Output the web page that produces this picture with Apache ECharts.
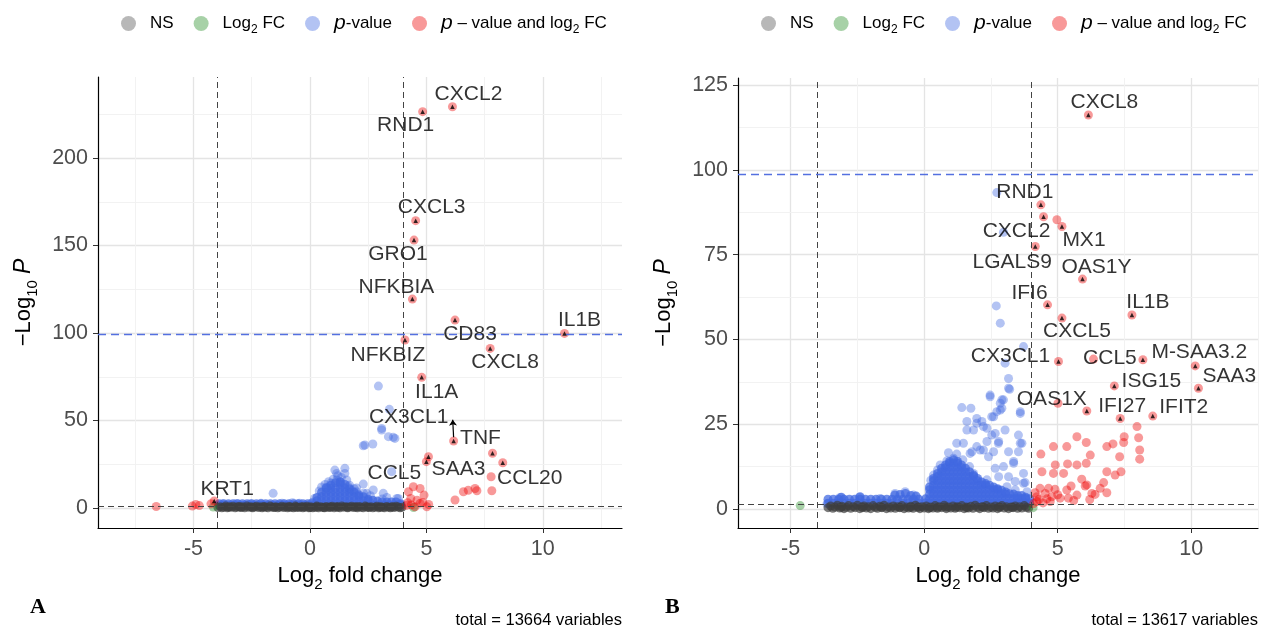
<!DOCTYPE html>
<html><head><meta charset="utf-8">
<script src="https://cdn.jsdelivr.net/npm/echarts@6/dist/echarts.min.js"></script>
<style>html,body{margin:0;padding:0;background:#fff}#c{width:1270px;height:632px}</style>
</head><body><div id="c"></div>
<script>
// ---------------- DATA : panel A ----------------
const nsA = [[-3.95,0.3],[-3.85,0.8],[-3.78,0.1],[-3.7,0.5],[-3.62,1.1],[-3.55,0.2],[-3.46,0.7],[-3.38,0.4],[-3.3,1.0],[-3.21,0.1],[-3.13,0.6],[-3.05,0.9],[-2.96,0.3],[-2.88,0.7],[-2.8,0.1],[-2.71,1.1],[-2.63,0.4],[-2.55,0.8],[-2.46,0.2],[-2.38,0.6],[-2.3,1.0],[-2.21,0.3],[-2.13,0.7],[-2.05,0.1],[-1.96,0.9],[-1.88,0.5],[-1.8,0.2],[-1.71,1.1],[-1.63,0.6],[-1.55,0.3],[-1.46,0.8],[-1.38,0.1],[-1.3,0.5],[-1.21,1.0],[-1.13,0.3],[-1.05,0.7],[-0.96,0.1],[-0.88,0.9],[-0.8,0.4],[-0.71,0.2],[-0.63,1.1],[-0.55,0.6],[-0.46,0.3],[-0.38,0.8],[-0.3,0.1],[-0.21,0.5],[-0.13,1.0],[-0.05,0.2],[0.04,0.7],[0.12,0.1],[0.2,0.4],[0.29,1.1],[0.37,0.2],[0.45,0.8],[0.54,0.5],[0.62,0.1],[0.7,0.9],[0.79,0.3],[0.87,0.6],[0.95,1.0],[1.04,0.2],[1.12,0.7],[1.2,0.4],[1.29,0.1],[1.37,1.1],[1.45,0.5],[1.54,0.8],[1.62,0.2],[1.7,0.6],[1.79,1.0],[1.87,0.3],[1.95,0.7],[2.04,0.1],[2.12,0.9],[2.2,0.4],[2.29,0.2],[2.37,1.1],[2.45,0.6],[2.54,0.3],[2.62,0.8],[2.7,0.1],[2.79,0.5],[2.87,1.0],[2.95,0.2],[3.04,0.7],[3.12,0.4],[3.2,0.1],[3.29,0.9],[3.37,0.5],[3.45,0.2],[3.54,0.8],[3.62,0.3],[3.7,1.0],[3.79,0.6],[3.87,0.1],[3.95,0.4],[-0.9,0.6],[-0.6,0.4],[-0.3,0.7],[0.0,0.3],[0.3,0.6],[0.6,0.3],[0.9,0.5],[1.2,0.8],[-1.5,0.5],[-2.0,0.6],[1.6,0.4],[2.0,0.6],[-2.5,0.5],[2.5,0.5],[-3.0,0.6],[3.0,0.5],[-3.5,0.5],[3.5,0.6]];
const fcA = [[4.45,0.3],[-4.15,0.6]];
// dense core of the p-value cloud
const pvCoreA = [[-3.9,1.6],[-3.9,2.5],[-3.7,1.6],[-3.7,2.5],[-3.5,1.6],[-3.5,2.5],[-3.3,1.6],[-3.3,2.5],[-3.1,1.6],[-3.1,2.5],[-2.9,1.6],[-2.9,2.5],[-2.7,1.6],[-2.7,2.5],[-2.5,1.6],[-2.5,2.5],[-2.3,1.6],[-2.3,2.5],[-2.1,1.6],[-2.1,2.5],[-1.9,1.6],[-1.9,2.5],[-1.7,1.6],[-1.7,2.5],[-1.5,1.6],[-1.5,2.5],[-1.3,1.6],[-1.3,2.5],[-1.1,1.6],[-1.1,2.5],[-0.9,1.6],[-0.9,2.5],[-0.7,1.6],[-0.7,2.5],[-0.5,1.6],[-0.5,2.5],[-0.3,1.6],[-0.3,2.5],[-0.1,1.6],[-0.1,2.5],
[0.1,1.8],[0.1,3.0],[0.3,1.8],[0.3,4.2],[0.3,6.0],[0.5,1.8],[0.5,4.2],[0.5,6.6],[0.5,9.0],[0.7,1.8],[0.7,4.2],[0.7,6.6],[0.7,9.0],[0.7,11.5],[0.9,1.8],[0.9,4.2],[0.9,6.6],[0.9,9.0],[0.9,11.4],[0.9,13.0],[1.1,1.8],[1.1,4.2],[1.1,6.6],[1.1,9.0],[1.1,11.4],[1.1,14.5],[1.3,1.8],[1.3,4.2],[1.3,6.6],[1.3,9.0],[1.3,11.4],[1.3,13.8],[1.3,15.0],[1.5,1.8],[1.5,4.2],[1.5,6.6],[1.5,9.0],[1.5,11.4],[1.5,13.5],[1.7,1.8],[1.7,4.2],[1.7,6.6],[1.7,9.0],[1.7,11.0],[1.9,1.8],[1.9,4.2],[1.9,6.6],[1.9,9.0],[2.1,1.8],[2.1,4.2],[2.1,6.6],[2.1,7.5],[2.3,1.8],[2.3,4.2],[2.3,6.5],[2.5,1.8],[2.5,4.2],[2.5,5.0],[2.7,1.8],[2.7,4.5],[2.9,1.8],[2.9,4.0],[3.1,1.8],[3.1,3.5],[3.3,1.8],[3.3,3.5],[3.5,1.8],[3.5,3.5],[3.7,1.8],[3.7,3.5],[3.9,1.8],[3.9,2.5]];
const pvA = [[-3.75,2.4],[-3.15,2.6],[-2.55,2.5],[-2.1,2.7],[-1.58,8.4],[-1.2,2.8],[-0.75,3.0],[-0.45,2.7],
[0.2,5.5],[0.4,9.8],[0.5,12.0],[0.65,13.5],[0.75,10.8],[0.8,15.0],[1.0,16.5],[1.15,19.8],[1.15,16.0],[1.35,17.5],[1.5,19.8],[1.58,16.0],[1.65,12.2],[1.8,10.0],[2.0,9.3],[2.3,8.4],[2.44,8.4],[2.72,10.3],[3.1,5.2],[3.15,8.4],[3.51,20.8],[3.73,5.5],
[2.29,13.7],[1.07,21.7],[1.5,22.7],[2.36,36.0],[2.29,35.6],[2.7,36.6],[3.08,45.5],[3.08,44.6],[3.37,40.8],[3.58,40.4],[3.65,39.8],[3.41,56.4],[2.94,69.7],[3.8,5.5],[2.0,11.5],[1.2,18.5],[0.9,14.2],[0.7,11.8],[1.3,14.8],[1.7,13.0],[1.9,11.0],[2.6,7.0],[3.3,6.0]];
const bothA = [[-6.6,0.9],[-5.05,1.1],[-4.9,2.0],[-4.75,1.4],[-4.25,2.4],[4.23,9.3],[4.44,12.2],[4.73,11.2],[4.9,7.4],[4.33,5.5],[4.51,0.7],[5.02,0.7],[4.73,2.7],[4.2,3.0],[4.35,1.8],[4.6,4.5],[4.85,3.2],[5.1,2.0],[4.15,1.5],[6.23,4.6],[6.59,9.3],[6.8,10.2],[7.09,11.2],[7.17,9.9],[7.81,9.9],[7.78,17.9]];
const labA = ['CXCL2','RND1','CXCL3','GRO1','NFKBIA','CD83','IL1B','NFKBIZ','CXCL8','IL1A','CX3CL1','TNF','SAA3','CCL5','CCL20','KRT1'];
const labAx = [6.12,4.84,4.54,4.47,4.40,6.23,10.93,4.08,7.74,4.80,6.17,7.84,5.09,5.0,8.28,-4.11];
const labAy = [229.3,226.5,164.2,153.1,119.4,107.4,99.8,96.0,91.2,74.7,38.3,31.3,29.3,26.5,25.9,4.0];

// ---------------- DATA : panel B ----------------
const nsB = [[-3.6,0.4],[-3.5,0.9],[-3.42,0.2],[-3.33,0.6],[-3.25,1.1],[-3.16,0.3],[-3.08,0.8],[-3.0,0.1],[-2.91,0.5],[-2.83,1.0],[-2.75,0.2],[-2.66,0.7],[-2.58,0.4],[-2.5,1.1],[-2.41,0.1],[-2.33,0.6],[-2.25,0.9],[-2.16,0.3],[-2.08,0.7],[-2.0,0.1],[-1.91,1.0],[-1.83,0.5],[-1.75,0.2],[-1.66,0.8],[-1.58,0.4],[-1.5,1.1],[-1.41,0.1],[-1.33,0.6],[-1.25,0.3],[-1.16,0.9],[-1.08,0.2],[-1.0,0.7],[-0.91,0.4],[-0.83,1.0],[-0.75,0.1],[-0.66,0.6],[-0.58,0.3],[-0.5,0.8],[-0.41,0.2],[-0.33,1.1],[-0.25,0.5],[-0.16,0.1],[-0.08,0.7],[0.0,0.3],[0.08,0.9],[0.16,0.1],[0.25,0.6],[0.33,0.3],[0.41,1.0],[0.5,0.2],[0.58,0.7],[0.66,0.4],[0.75,1.1],[0.83,0.1],[0.91,0.6],[1.0,0.3],[1.08,0.9],[1.16,0.2],[1.25,0.7],[1.33,0.4],[1.41,1.0],[1.5,0.1],[1.58,0.6],[1.66,0.3],[1.75,0.8],[1.83,0.2],[1.91,1.1],[2.0,0.5],[2.08,0.1],[2.16,0.7],[2.25,0.4],[2.33,1.0],[2.41,0.2],[2.5,0.6],[2.58,0.3],[2.66,0.9],[2.75,0.1],[2.83,0.5],[2.91,1.0],[3.0,0.3],[3.08,0.7],[3.16,0.1],[3.25,0.6],[3.33,0.4],[3.41,0.9],[3.5,0.2],[3.58,0.7],[3.66,0.3],[3.75,1.0],[3.83,0.5],[3.91,0.2],[-0.9,0.5],[-0.5,0.5],[-0.2,0.6],[0.2,0.4],[0.5,0.5],[0.8,0.6],[1.2,0.5],[1.6,0.4],[2.2,0.6],[-1.6,0.5],[-2.3,0.4],[2.8,0.6],[-3.1,0.5],[3.3,0.5]];
const fcB = [[-4.64,1.0],[4.08,0.4]];
const pvCoreB = [[-3.6,1.7],[-3.6,2.9],[-3.4,1.7],[-3.4,2.9],[-3.2,1.7],[-3.2,2.9],[-3.1,3.5],[-3.0,1.7],[-3.0,2.9],[-2.8,1.7],[-2.8,2.9],[-2.6,1.7],[-2.6,2.9],[-2.4,1.7],[-2.4,2.9],[-2.4,3.6],[-2.2,1.7],[-2.2,2.9],[-2.0,1.7],[-2.0,2.9],[-1.8,1.7],[-1.8,2.9],[-1.6,1.7],[-1.6,2.9],[-1.4,1.7],[-1.4,2.9],[-1.2,1.7],[-1.2,2.9],[-1.1,4.1],[-1.0,1.7],[-1.0,2.9],[-0.9,4.3],[-0.8,1.7],[-0.8,2.9],[-0.7,4.6],[-0.6,1.7],[-0.6,2.9],[-0.5,4.0],[-0.4,1.7],[-0.4,2.9],[-0.3,3.8],[-0.2,1.7],[-0.2,2.9],
[0.05,1.8],[0.05,3.0],
[0.2,1.8],[0.2,3.1],[0.2,4.4],[0.2,5.7],[0.2,6.5],
[0.35,1.8],[0.35,3.1],[0.35,4.4],[0.35,5.7],[0.35,7.0],[0.35,8.3],[0.35,9.0],
[0.5,1.8],[0.5,3.1],[0.5,4.4],[0.5,5.7],[0.5,7.0],[0.5,8.3],[0.5,9.6],[0.5,10.5],
[0.65,1.8],[0.65,3.1],[0.65,4.4],[0.65,5.7],[0.65,7.0],[0.65,8.3],[0.65,9.6],[0.65,10.9],[0.65,12.0],
[0.8,1.8],[0.8,3.1],[0.8,4.4],[0.8,5.7],[0.8,7.0],[0.8,8.3],[0.8,9.6],[0.8,10.9],[0.8,12.2],[0.8,13.0],
[0.95,1.8],[0.95,3.1],[0.95,4.4],[0.95,5.7],[0.95,7.0],[0.95,8.3],[0.95,9.6],[0.95,10.9],[0.95,12.2],[0.95,13.5],[0.95,14.0],
[1.1,1.8],[1.1,3.1],[1.1,4.4],[1.1,5.7],[1.1,7.0],[1.1,8.3],[1.1,9.6],[1.1,10.9],[1.1,12.2],[1.1,13.5],[1.1,14.5],
[1.25,1.8],[1.25,3.1],[1.25,4.4],[1.25,5.7],[1.25,7.0],[1.25,8.3],[1.25,9.6],[1.25,10.9],[1.25,12.2],[1.25,13.5],[1.25,14.0],
[1.4,1.8],[1.4,3.1],[1.4,4.4],[1.4,5.7],[1.4,7.0],[1.4,8.3],[1.4,9.6],[1.4,10.9],[1.4,12.2],[1.4,13.0],
[1.55,1.8],[1.55,3.1],[1.55,4.4],[1.55,5.7],[1.55,7.0],[1.55,8.3],[1.55,9.6],[1.55,10.9],[1.55,12.0],
[1.7,1.8],[1.7,3.1],[1.7,4.4],[1.7,5.7],[1.7,7.0],[1.7,8.3],[1.7,9.6],[1.7,11.0],
[1.85,1.8],[1.85,3.1],[1.85,4.4],[1.85,5.7],[1.85,7.0],[1.85,8.3],[1.85,9.6],[1.85,10.0],
[2.0,1.8],[2.0,3.1],[2.0,4.4],[2.0,5.7],[2.0,7.0],[2.0,8.3],[2.0,9.0],
[2.15,1.8],[2.15,3.1],[2.15,4.4],[2.15,5.7],[2.15,7.0],[2.15,8.0],
[2.3,1.8],[2.3,3.1],[2.3,4.4],[2.3,5.7],[2.3,7.0],[2.3,7.5],
[2.45,1.8],[2.45,3.1],[2.45,4.4],[2.45,5.7],[2.45,7.0],
[2.6,1.8],[2.6,3.1],[2.6,4.4],[2.6,5.7],[2.6,6.5],
[2.75,1.8],[2.75,3.1],[2.75,4.4],[2.75,5.7],[2.75,6.0],
[2.9,1.8],[2.9,3.1],[2.9,4.4],[2.9,5.5],
[3.05,1.8],[3.05,3.1],[3.05,4.4],[3.05,5.0],
[3.2,1.8],[3.2,3.1],[3.2,4.5],
[3.35,1.8],[3.35,3.1],[3.35,4.4],
[3.5,1.8],[3.5,3.1],[3.5,4.0],
[3.65,1.8],[3.65,3.1],[3.65,4.0],
[3.8,1.8],[3.8,3.1],[3.8,3.5],
[3.95,1.8],[3.95,3.0]];
const pvB = [[-3.64,1.5],[-3.15,3.4],[-2.42,3.4],[-1.65,3.1],[-1.09,4.6],[-0.71,5.1],[-0.4,4.1],
[0.25,8.5],[0.35,10.0],[0.5,11.5],[0.6,13.0],[0.85,14.2],[0.91,16.6],[1.1,15.0],[1.22,16.2],[1.22,19.4],[1.45,14.5],[1.79,16.9],[1.7,12.5],[2.35,8.6],[3.41,5.6],[3.72,7.6],[3.78,7.8],[3.85,5.1],
[1.41,29.9],[1.75,29.7],[1.60,25.8],[1.60,23.3],[1.97,25.3],[2.16,25.8],[1.85,23.3],[2.35,23.8],[2.66,22.3],[1.97,18.4],[2.22,17.4],[2.35,19.9],[2.41,15.4],[2.60,16.9],[2.79,19.9],[3.03,23.3],[2.53,27.2],[2.72,28.7],[2.85,31.2],[2.97,32.2],[2.47,33.6],[2.91,29.7],[3.16,35.6],[3.53,21.8],[3.60,19.4],[3.53,16.9],[3.35,13.5],[2.66,12.0],[2.79,9.5],[3.16,9.5],[3.10,6.6],[3.60,28.2],
[2.70,59.9],[2.85,54.8],[3.72,47.9],[3.03,43.0],[3.16,38.5],[3.20,35.3],[2.47,33.1],[2.91,32.2],[3.60,28.7],[2.85,29.2],[1.97,26.7],[2.60,27.2],[2.22,24.3],[2.53,21.8],[2.78,19.4],[3.16,16.9],[3.66,19.4],[3.35,14.0],[3.72,10.5],[3.41,8.1],[2.97,12.5],[2.10,17.4],[1.72,16.4],[1.47,19.4],[1.85,10.5],[2.72,93.3],[2.97,81.6]];
const bothB = [[7.97,24.3],[8.03,21.0],[8.07,17.4],[8.07,14.7],[7.49,21.3],[7.47,19.6],[7.07,19.2],[6.84,18.4],[7.32,15.4],[7.37,11.0],[7.15,10.0],[6.84,11.0],[6.72,7.8],[6.59,6.1],[6.28,4.6],[6.09,7.1],[6.22,15.9],[6.07,19.6],[5.72,21.3],[5.34,18.4],[4.84,18.4],[4.37,16.2],[4.41,11.0],[4.91,13.0],[5.37,13.3],[5.72,13.0],[6.07,13.5],[5.22,10.5],[4.84,10.5],[4.34,6.1],[4.66,6.1],[4.22,3.6],[4.53,4.6],[4.78,3.6],[5.34,5.6],[5.40,3.2],[5.72,4.1],[6.03,6.8],[6.40,4.3],[6.84,4.8],[5.09,3.2],[4.72,2.2],[4.22,2.2],[4.1,1.6],[4.3,2.8],[4.45,1.8],[4.6,3.0],[5.0,4.2],[5.6,2.5],[6.2,2.8],[4.15,4.8],[4.9,5.8],[5.5,6.8],[5.9,8.8],[4.97,85.3],[6.34,44.2],[5.01,31.2]];
const labB = ['CXCL8','RND1','CXCL2','MX1','LGALS9','OAS1Y','IFI6','IL1B','CXCL5','CX3CL1','CCL5','M-SAA3.2','SAA3','ISG15','OAS1X','IFI27','IFIT2'];
const labBx = [6.15,4.37,4.47,5.16,4.16,5.93,4.62,7.78,5.16,5.03,8.19,10.15,10.27,7.12,6.09,7.34,8.56];
const labBy = [116.2,89.7,86.2,83.3,77.4,67.8,60.2,57.2,56.3,43.5,44.0,42.2,35.6,36.3,28.9,26.7,27.4];

const xTicks = [-5,0,5,10];
const yTicksA = [0,50,100,150,200];
const yTicksB = [0,25,50,75,100,125];
const totals = ['total = 13664 variables','total = 13617 variables'];

// ---------------- styling / layout ----------------
const FONT = 'Liberation Sans, Arial, sans-serif';
const LEGCOL = {ns:'rgba(77,77,77,0.5)', fc:'rgba(34,139,34,0.5)', pv:'rgba(65,105,225,0.5)', both:'rgba(238,0,0,0.5)'};
const NAMES = ['NS','Log2 FC','p-value','p - value and log2 FC'];
const offA = {CXCL2:[16,-13],RND1:[-17,14],CXCL3:[16,-13],GRO1:[-16,14],NFKBIA:[-16,-12],CD83:[15,14],IL1B:[15,-13],NFKBIZ:[-17,15],CXCL8:[15,14],IL1A:[15,15],CX3CL1:[-45,-24],TNF:[-12,-15],SAA3:[30,12],CCL5:[-32,12],CCL20:[27,15],KRT1:[13,-12]};
const offB = {CXCL8:[16,-13],RND1:[-16,-13],CXCL2:[-27,15],MX1:[22,14],LGALS9:[-23,16],OAS1Y:[14,-12],IFI6:[-18,-12],IL1B:[16,-13],CXCL5:[15,13],CX3CL1:[-48,-5],CCL5:[-33,-2],'M-SAA3.2':[4,-14],SAA3:[31,-12],ISG15:[37,-5],OAS1X:[-35,-12],IFI27:[2,-12],IFIT2:[31,-9]};

const panels = [
  {ns:nsA, fc:fcA, core:pvCoreA, pv:pvA, both:bothA, lab:labA, lx:labAx, ly:labAy, off:offA, yTicks:yTicksA,
   grid:{left:98, right:648, top:77, bottom:104}, x:[-9.1,13.4], y:[-11.4,246.3],
   xMinor:[-7.5,-2.5,2.5,7.5,12.5], yMinor:[25,75,125,175,225], hline:99.4,
   connector:[[6.17,40.5],[6.13,50.5]]},
  {ns:nsB, fc:fcB, core:pvCoreB, pv:pvB, both:bothB, lab:labB, lx:labBx, ly:labBy, off:offB, yTicks:yTicksB,
   grid:{left:738, right:12, top:78, bottom:104}, x:[-6.97,12.5], y:[-5.6,127.1],
   xMinor:[-2.5,2.5,7.5,12.5], yMinor:[12.5,37.5,62.5,87.5,112.5], hline:98.8, connector:null}
];

const richBase = {
  t:{fontSize:22, fontFamily:FONT, color:'#000', lineHeight:32},
  s:{fontSize:15, fontFamily:FONT, color:'#000', lineHeight:14, verticalAlign:'bottom'},
  i:{fontSize:23, fontFamily:FONT, color:'#000', fontStyle:'italic', lineHeight:32}
};

const grids=[], xAxes=[], yAxes=[], series=[];
panels.forEach((p,k)=>{
  grids.push(Object.assign({containLabel:false}, p.grid));
  xAxes.push({type:'value', gridIndex:k, min:p.x[0], max:p.x[1],
    axisLine:{onZero:false, lineStyle:{color:'#000', width:1.2}},
    axisTick:{customValues:xTicks, length:5, lineStyle:{color:'#333'}},
    axisLabel:{customValues:xTicks, fontSize:21.5, color:'#4d4d4d', fontFamily:FONT, margin:10},
    splitLine:{show:false},
    name:'{t|Log}{s|2}{t| fold change}', nameLocation:'middle', nameGap:32,
    nameTextStyle:{rich:richBase}});
  yAxes.push({type:'value', gridIndex:k, min:p.y[0], max:p.y[1],
    axisLine:{show:true, onZero:false, lineStyle:{color:'#000', width:1.2}},
    axisTick:{show:true, customValues:p.yTicks, length:5, lineStyle:{color:'#333'}},
    axisLabel:{customValues:p.yTicks, fontSize:21.5, color:'#4d4d4d', fontFamily:FONT, margin:10},
    splitLine:{show:false},
    name:'{t|\u2212Log}{s|10}{t| }{i|P}', nameLocation:'middle', nameGap:58, nameRotate:90,
    nameTextStyle:{rich:richBase}});
  const gl = [];
  xTicks.forEach(v=>gl.push({xAxis:v, lineStyle:{color:'#e4e4e4', width:1.3, type:'solid'}}));
  p.yTicks.forEach(v=>gl.push({yAxis:v, lineStyle:{color:'#e4e4e4', width:1.3, type:'solid'}}));
  p.xMinor.forEach(v=>gl.push({xAxis:v, lineStyle:{color:'#f0f0f0', width:0.9, type:'solid'}}));
  p.yMinor.forEach(v=>gl.push({yAxis:v, lineStyle:{color:'#f0f0f0', width:0.9, type:'solid'}}));
  series.push({type:'scatter', name:'grid'+k, xAxisIndex:k, yAxisIndex:k, data:[], z:0, silent:true,
    markLine:{silent:true, symbol:'none', z:0, label:{show:false}, animation:false, data:gl}});
  const mk = (name, data, color, z)=>({type:'scatter', name, xAxisIndex:k, yAxisIndex:k, data, symbolSize:9,
    itemStyle:{color}, z, animation:false, silent:true});
  series.push(mk(NAMES[2], p.core, 'rgba(65,105,225,0.92)', 2));
  series.push(mk(NAMES[2], p.pv, 'rgba(65,105,225,0.5)', 2));
  series.push(mk(NAMES[0], p.ns, 'rgba(62,62,62,0.85)', 3));
  series.push(mk(NAMES[1], p.fc, 'rgba(34,139,34,0.5)', 3));
  const labPts = p.lab.map((n,j)=>[p.lx[j], p.ly[j]]);
  series.push(mk(NAMES[3], p.both.concat(labPts), 'rgba(238,0,0,0.5)', 3));
  const th = [
    {xAxis:-4, lineStyle:{color:'#444', type:[6,4], width:1}},
    {xAxis:4, lineStyle:{color:'#444', type:[6,4], width:1}},
    {yAxis:1.3, lineStyle:{color:'#444', type:[6,4], width:1}},
    {yAxis:p.hline, lineStyle:{color:'#5470e0', type:[8,5], width:1.4}}
  ];
  series.push({type:'scatter', name:'th'+k, xAxisIndex:k, yAxisIndex:k, data:[], z:4, silent:true,
    markLine:{silent:true, symbol:'none', label:{show:false}, animation:false, z:4, data:th}});
  if (p.connector){
    series.push({type:'scatter', name:'conn'+k, xAxisIndex:k, yAxisIndex:k, data:[], z:4, silent:true,
      markLine:{silent:true, symbol:['none','arrow'], symbolSize:6, label:{show:false}, animation:false, z:4,
        lineStyle:{color:'#000', type:'solid', width:1.2},
        data:[[{coord:p.connector[0]},{coord:p.connector[1]}]]}});
  }
  series.push({type:'scatter', name:'arrow'+k, xAxisIndex:k, yAxisIndex:k, data:labPts, symbol:'triangle',
    symbolSize:4.5, itemStyle:{color:'#000'}, z:5, silent:true, animation:false});
  series.push({type:'scatter', name:'lab'+k, xAxisIndex:k, yAxisIndex:k, symbolSize:1, z:6, silent:true,
    itemStyle:{color:'rgba(0,0,0,0)'}, animation:false,
    data:p.lab.map((n,j)=>({name:n, value:[p.lx[j],p.ly[j]], label:{offset:p.off[n]}})),
    label:{show:true, position:'inside', formatter:'{b}', fontSize:21, color:'#000', fontFamily:FONT}});
});

const legRich = {
  t:{fontSize:17, fontFamily:FONT, color:'#000', lineHeight:24},
  s:{fontSize:12, fontFamily:FONT, color:'#000', lineHeight:12, verticalAlign:'bottom'},
  i:{fontSize:21, fontFamily:FONT, color:'#000', fontStyle:'italic', lineHeight:24}
};
const legFmt = n => n==='NS' ? '{t|NS}' : n==='Log2 FC' ? '{t|Log}{s|2}{t| FC}' :
  n==='p-value' ? '{i|p}{t|-value}' : '{i|p}{t| \u2013 value and log}{s|2}{t| FC}';
const legData = [
  {name:NAMES[0], itemStyle:{color:LEGCOL.ns}},
  {name:NAMES[1], itemStyle:{color:LEGCOL.fc}},
  {name:NAMES[2], itemStyle:{color:LEGCOL.pv}},
  {name:NAMES[3], itemStyle:{color:LEGCOL.both}}
];
const legend = [116, 756].map(l=>({left:l, top:8, width:620, data:legData, icon:'circle', itemWidth:15, itemHeight:15,
  itemGap:20, selectedMode:false, formatter:legFmt, textStyle:{padding:[0,0,0,9], rich:legRich}}));

const graphic = [
  {type:'text', x:30, y:596, style:{text:'A', font:'bold 22px "Liberation Serif", "Times New Roman", serif', fill:'#000'}},
  {type:'text', x:665, y:596, style:{text:'B', font:'bold 22px "Liberation Serif", "Times New Roman", serif', fill:'#000'}},
  {type:'text', x:622, y:612, style:{text:totals[0], font:'16.5px '+FONT, fill:'#000', textAlign:'right'}},
  {type:'text', x:1258, y:612, style:{text:totals[1], font:'16.5px '+FONT, fill:'#000', textAlign:'right'}}
];

const chart = echarts.init(document.getElementById('c'), null, {renderer:'canvas'});
chart.setOption({animation:false, backgroundColor:'#fff', grid:grids, xAxis:xAxes, yAxis:yAxes,
  legend, series, graphic});
</script></body></html>
